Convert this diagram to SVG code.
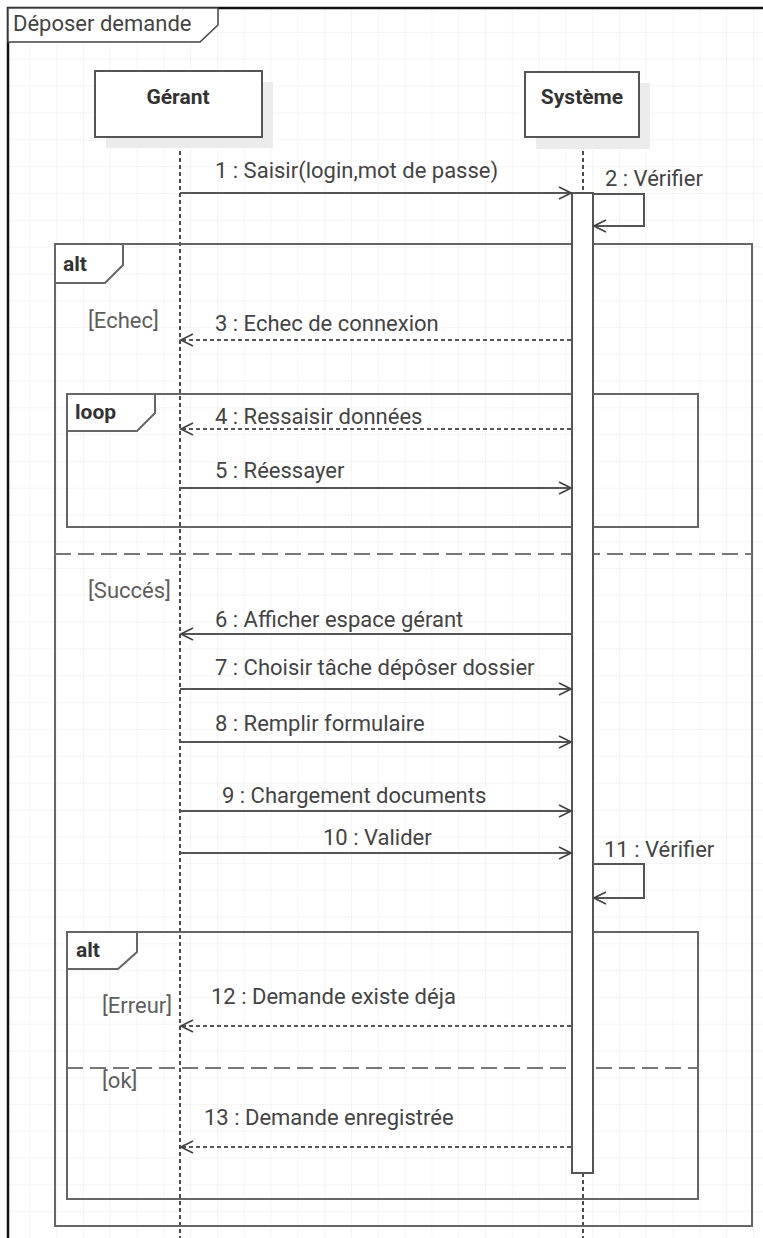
<svg xmlns="http://www.w3.org/2000/svg" width="763" height="1238" viewBox="0 0 763 1238">
<defs>
<pattern id="grid" patternUnits="userSpaceOnUse" x="2.6" y="5.3" width="26.8" height="26.8">
<path d="M0 0H26.8M0 0V26.8" fill="none" stroke="#ebebeb" stroke-width="1"/>
</pattern>
<marker id="open" markerWidth="16" markerHeight="14" refX="13" refY="7" orient="auto" markerUnits="userSpaceOnUse">
<path d="M1 1L13 7L1 13" fill="none" stroke="#444" stroke-width="1.8"/>
</marker>
<style>
.t{font-family:Roboto,"Liberation Sans",sans-serif;font-size:22px;fill:#444}
.g{font-family:Roboto,"Liberation Sans",sans-serif;font-size:22px;fill:#5e5e5e}
.b{font-family:Roboto,"Liberation Sans",sans-serif;font-size:21px;font-weight:bold;fill:#333}
.frag{fill:none;stroke:#666;stroke-width:2}
.tab{fill:#fff;stroke:#666;stroke-width:2}
.sep{stroke:#777;stroke-width:2;stroke-dasharray:16 7;fill:none}
.life{stroke:#111;stroke-width:1.5;stroke-dasharray:4 3;fill:none}
.msg{stroke:#555;stroke-width:2;fill:none;marker-end:url(#open)}
.ret{stroke:#555;stroke-width:2;stroke-dasharray:4 3;fill:none;marker-end:url(#open)}
.box{fill:#fff;stroke:#555;stroke-width:2}
.shadow{fill:#ececec}
</style>
</defs>
<rect width="763" height="1238" fill="#fff"/>
<rect x="8" y="8" width="755" height="1230" fill="url(#grid)"/>
<g id="diagram-frame">
<path d="M8 1238V8H763" fill="none" stroke="#111" stroke-width="2.5"/>
<path d="M8 8H218V25L200 42H8Z" fill="#fff" stroke="#444" stroke-width="1.5"/>
<text class="t" x="13" y="31">Déposer demande</text>
</g>
<g id="lifelines">
<line class="life" x1="180" y1="137" x2="180" y2="1238"/>
<line class="life" x1="583" y1="137" x2="583" y2="194"/>
<line class="life" x1="583" y1="1173" x2="583" y2="1238"/>
</g>
<g id="gerant">
<rect class="shadow" x="106" y="82" width="167" height="66"/>
<rect class="box" x="95" y="71" width="167" height="66"/>
<text class="b" x="178" y="104" text-anchor="middle">Gérant</text>
</g>
<g id="systeme">
<rect class="shadow" x="536" y="83" width="114" height="66"/>
<rect class="box" x="525" y="72" width="114" height="65"/>
<text class="b" x="582" y="104" text-anchor="middle">Système</text>
</g>
<g id="alt-outer">
<rect class="frag" x="55" y="244" width="697" height="982"/>
<path class="tab" d="M55 244H123V265L105 283H55Z"/>
<text class="b" x="63" y="271">alt</text>
<line class="sep" x1="55" y1="554" x2="752" y2="554"/>
<text class="g" x="88" y="328">[Echec]</text>
<text class="g" x="88" y="598">[Succés]</text>
</g>
<g id="loop">
<rect class="frag" x="67" y="394" width="631" height="133"/>
<path class="tab" d="M67 394H155V413L137 431H67Z"/>
<text class="b" x="75" y="419">loop</text>
</g>
<g id="alt-inner">
<rect class="frag" x="67" y="932" width="631" height="267"/>
<path class="tab" d="M67 932H137V952L118 969H67Z"/>
<text class="b" x="76" y="957">alt</text>
<line class="sep" x1="67" y1="1068" x2="698" y2="1068"/>
<text class="g" x="102" y="1013">[Erreur]</text>
<text class="g" x="102" y="1088">[ok]</text>
</g>
<g id="activation">
<rect x="572" y="193" width="21" height="980" fill="#fff" stroke="#555" stroke-width="2"/>
</g>
<g id="connectors">
<line class="msg" x1="180" y1="193" x2="571" y2="193"/>
<path class="msg" d="M593 194H644V226H594"/>
<line class="ret" x1="571" y1="340" x2="181" y2="340"/>
<line class="ret" x1="571" y1="429" x2="181" y2="429"/>
<line class="msg" x1="180" y1="488" x2="571" y2="488"/>
<line class="msg" x1="571" y1="634" x2="181" y2="634"/>
<line class="msg" x1="180" y1="689" x2="571" y2="689"/>
<line class="msg" x1="180" y1="742" x2="571" y2="742"/>
<line class="msg" x1="180" y1="811" x2="571" y2="811"/>
<line class="msg" x1="180" y1="853" x2="571" y2="853"/>
<path class="msg" d="M593 864H644V898H594"/>
<line class="ret" x1="571" y1="1026" x2="181" y2="1026"/>
<line class="ret" x1="571" y1="1147" x2="181" y2="1147"/>
</g>
<g id="labels">
<text class="t" x="215" y="178">1 : Saisir(login,mot de passe)</text>
<text class="t" x="605" y="186">2 : Vérifier</text>
<text class="t" x="215" y="331">3 : Echec de connexion</text>
<text class="t" x="215" y="424">4 : Ressaisir données</text>
<text class="t" x="215" y="478">5 : Réessayer</text>
<text class="t" x="215" y="627">6 : Afficher espace gérant</text>
<text class="t" x="215" y="675">7 : Choisir tâche dépôser dossier</text>
<text class="t" x="215" y="731">8 : Remplir formulaire</text>
<text class="t" x="222" y="803">9 : Chargement documents</text>
<text class="t" x="323" y="845">10 : Valider</text>
<text class="t" x="604" y="857">11 : Vérifier</text>
<text class="t" x="211" y="1004">12 : Demande existe déja</text>
<text class="t" x="204" y="1125">13 : Demande enregistrée</text>
</g>
</svg>
